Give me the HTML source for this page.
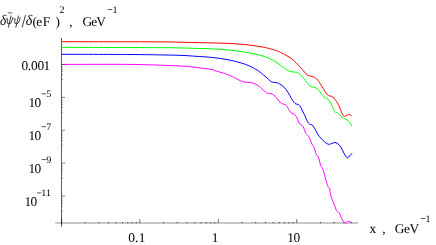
<!DOCTYPE html>
<html><head><meta charset="utf-8"><style>
html,body{margin:0;padding:0;background:#fff}
svg{display:block;will-change:transform}
text{font-family:"Liberation Serif",serif;fill:#000;text-rendering:geometricPrecision}
</style></head><body>
<svg width="436" height="245" viewBox="0 0 436 245">
<rect width="436" height="245" fill="#fff"/>
<rect x="55.3" y="222.15" width="302.5" height="1.7" fill="#bebebe"/>
<line x1="85.02" y1="223.2" x2="85.02" y2="222.0" stroke="#111" stroke-width="0.75"/><line x1="98.83" y1="223.2" x2="98.83" y2="222.0" stroke="#111" stroke-width="0.75"/><line x1="108.63" y1="223.2" x2="108.63" y2="222.0" stroke="#111" stroke-width="0.75"/><line x1="116.23" y1="223.2" x2="116.23" y2="222.0" stroke="#111" stroke-width="0.75"/><line x1="122.45" y1="223.2" x2="122.45" y2="222.0" stroke="#111" stroke-width="0.75"/><line x1="127.70" y1="223.2" x2="127.70" y2="222.0" stroke="#111" stroke-width="0.75"/><line x1="132.25" y1="223.2" x2="132.25" y2="222.0" stroke="#111" stroke-width="0.75"/><line x1="136.26" y1="223.2" x2="136.26" y2="222.0" stroke="#111" stroke-width="0.75"/><line x1="139.85" y1="223" x2="139.85" y2="219.1" stroke="#000" stroke-width="0.55"/><line x1="163.47" y1="223.2" x2="163.47" y2="222.0" stroke="#111" stroke-width="0.75"/><line x1="177.28" y1="223.2" x2="177.28" y2="222.0" stroke="#111" stroke-width="0.75"/><line x1="187.08" y1="223.2" x2="187.08" y2="222.0" stroke="#111" stroke-width="0.75"/><line x1="194.68" y1="223.2" x2="194.68" y2="222.0" stroke="#111" stroke-width="0.75"/><line x1="200.90" y1="223.2" x2="200.90" y2="222.0" stroke="#111" stroke-width="0.75"/><line x1="206.15" y1="223.2" x2="206.15" y2="222.0" stroke="#111" stroke-width="0.75"/><line x1="210.70" y1="223.2" x2="210.70" y2="222.0" stroke="#111" stroke-width="0.75"/><line x1="214.71" y1="223.2" x2="214.71" y2="222.0" stroke="#111" stroke-width="0.75"/><line x1="218.30" y1="223" x2="218.30" y2="219.1" stroke="#000" stroke-width="0.55"/><line x1="241.92" y1="223.2" x2="241.92" y2="222.0" stroke="#111" stroke-width="0.75"/><line x1="255.73" y1="223.2" x2="255.73" y2="222.0" stroke="#111" stroke-width="0.75"/><line x1="265.53" y1="223.2" x2="265.53" y2="222.0" stroke="#111" stroke-width="0.75"/><line x1="273.13" y1="223.2" x2="273.13" y2="222.0" stroke="#111" stroke-width="0.75"/><line x1="279.35" y1="223.2" x2="279.35" y2="222.0" stroke="#111" stroke-width="0.75"/><line x1="284.60" y1="223.2" x2="284.60" y2="222.0" stroke="#111" stroke-width="0.75"/><line x1="289.15" y1="223.2" x2="289.15" y2="222.0" stroke="#111" stroke-width="0.75"/><line x1="293.16" y1="223.2" x2="293.16" y2="222.0" stroke="#111" stroke-width="0.75"/><line x1="296.75" y1="223" x2="296.75" y2="219.1" stroke="#000" stroke-width="0.55"/><line x1="320.37" y1="223.2" x2="320.37" y2="222.0" stroke="#111" stroke-width="0.75"/><line x1="334.18" y1="223.2" x2="334.18" y2="222.0" stroke="#111" stroke-width="0.75"/><line x1="343.98" y1="223.2" x2="343.98" y2="222.0" stroke="#111" stroke-width="0.75"/><line x1="351.58" y1="223.2" x2="351.58" y2="222.0" stroke="#111" stroke-width="0.75"/>
<line x1="61.5" y1="38" x2="61.5" y2="226.8" stroke="#000" stroke-width="0.64"/>
<line x1="61.7" y1="218.9" x2="61.7" y2="224.1" stroke="#000" stroke-width="0.6"/>
<g fill="none" stroke-width="1.0" stroke-linejoin="round" stroke-linecap="butt">
<path d="M61.50,64.40 C72.92,64.40 112.58,64.23 130.00,64.40 C144.40,64.54 157.00,65.10 166.00,65.40 C173.20,65.64 179.00,65.87 184.00,66.20 C188.81,66.52 191.25,66.82 196.00,67.40 C200.75,67.98 209.17,69.10 212.50,69.70 C213.97,69.96 214.58,70.55 216.00,71.00 C217.96,71.62 221.50,72.45 224.25,73.40 C227.00,74.35 229.75,75.46 232.50,76.70 C235.25,77.94 238.68,79.93 240.75,80.85 C242.35,81.56 243.25,81.92 244.90,82.20 C246.55,82.48 248.87,82.17 250.65,82.50 C252.43,82.83 253.95,83.33 255.60,84.15 C257.25,84.98 259.48,86.65 260.55,87.45 C261.22,87.95 261.39,88.38 262.00,88.95 C262.78,89.67 264.27,91.06 265.25,91.80 C266.23,92.54 266.92,93.07 267.90,93.40 C268.88,93.73 270.13,93.52 271.10,93.80 C272.07,94.08 272.82,94.45 273.70,95.10 C274.57,95.75 275.48,96.72 276.35,97.70 C277.23,98.68 278.08,99.98 278.95,100.95 C279.82,101.92 280.57,102.96 281.55,103.55 C282.53,104.14 283.93,104.06 284.80,104.50 C285.68,104.94 286.14,105.38 286.80,106.20 C287.46,107.02 288.10,108.38 288.75,109.40 C289.40,110.42 289.95,111.54 290.70,112.30 C291.45,113.06 292.50,113.46 293.25,113.95 C294.00,114.44 294.59,114.54 295.20,115.25 C295.86,116.01 296.55,117.19 297.20,118.50 C297.85,119.81 298.45,122.07 299.10,123.10 C299.64,123.95 300.45,124.11 301.10,124.65 C301.75,125.19 302.46,125.49 303.00,126.35 C303.58,127.28 304.12,129.06 304.60,130.25 C305.08,131.44 305.40,132.68 305.90,133.50 C306.40,134.32 307.10,134.65 307.60,135.20 C308.10,135.75 308.50,136.08 308.90,136.80 C309.35,137.60 309.82,138.82 310.30,140.00 C310.78,141.18 311.18,142.82 311.75,143.90 C312.32,144.98 313.16,145.42 313.70,146.50 C314.24,147.58 314.57,149.09 315.00,150.40 C315.43,151.71 315.76,153.26 316.30,154.35 C316.84,155.44 317.71,155.86 318.25,156.95 C318.79,158.04 319.16,159.49 319.55,160.90 C319.94,162.31 320.12,164.22 320.60,165.40 C321.07,166.57 321.88,166.92 322.40,168.00 C322.92,169.08 323.31,170.38 323.75,171.90 C324.19,173.42 324.57,175.36 325.05,177.10 C325.53,178.84 326.12,180.82 326.60,182.35 C327.08,183.88 327.40,185.16 327.90,186.25 C328.40,187.34 329.21,187.81 329.60,188.90 C329.99,189.99 330.02,191.53 330.25,192.80 C330.48,194.07 330.62,195.23 331.00,196.50 C331.38,197.77 331.93,198.97 332.50,200.40 C333.07,201.83 333.75,203.44 334.40,205.10 C335.05,206.76 335.85,209.22 336.40,210.35 C336.75,211.08 337.20,211.47 337.70,211.90 C338.20,212.33 338.96,212.28 339.40,212.95 C339.94,213.78 340.37,215.59 340.95,216.90 C341.53,218.21 342.36,219.87 342.90,220.80 C343.33,221.54 343.77,222.18 344.20,222.50 C344.62,222.82 344.98,222.86 345.50,222.75 C346.05,222.63 346.85,222.03 347.50,221.80 C348.15,221.58 348.87,221.40 349.40,221.40 C349.93,221.40 350.32,221.58 350.70,221.80 C351.07,222.03 351.49,222.59 351.65,222.75" stroke="#ff00ff"/>
<path d="M61.50,54.30 C72.92,54.33 112.58,54.38 130.00,54.50 C144.40,54.60 157.00,54.83 166.00,55.00 C173.20,55.13 179.00,55.28 184.00,55.50 C188.81,55.71 191.25,55.97 196.00,56.30 C200.75,56.63 207.00,56.90 212.50,57.50 C218.00,58.10 223.50,58.75 229.00,59.90 C234.50,61.05 240.79,62.70 245.50,64.40 C250.21,66.10 253.92,68.05 257.25,70.10 C260.58,72.15 263.16,74.77 265.50,76.70 C267.84,78.63 269.93,80.77 271.30,81.70 C272.13,82.27 272.76,82.11 273.75,82.30 C274.85,82.52 276.92,82.72 277.90,83.00 C278.66,83.22 278.95,83.56 279.60,84.00 C280.65,84.72 282.78,85.88 284.20,87.30 C285.62,88.72 286.91,90.66 288.10,92.50 C289.29,94.34 290.38,96.72 291.35,98.35 C292.31,99.96 293.19,101.32 293.95,102.25 C294.60,103.05 295.22,103.61 295.90,103.95 C296.57,104.29 297.37,104.03 298.00,104.30 C298.63,104.57 299.17,104.92 299.70,105.60 C300.28,106.35 300.95,107.73 301.50,108.80 C302.05,109.87 302.42,110.82 303.00,112.00 C303.58,113.18 304.34,114.48 305.00,115.90 C305.66,117.32 306.37,119.30 306.95,120.50 C307.48,121.59 307.96,122.45 308.50,123.10 C309.04,123.75 309.59,124.08 310.20,124.40 C310.81,124.72 311.50,124.50 312.15,125.00 C312.80,125.50 313.44,126.42 314.10,127.40 C314.76,128.38 315.45,129.67 316.10,130.90 C316.75,132.13 317.24,133.60 318.00,134.80 C318.76,136.00 319.93,137.28 320.65,138.10 C321.26,138.79 321.64,139.08 322.30,139.70 C322.96,140.32 323.78,141.12 324.60,141.80 C325.42,142.48 326.43,143.38 327.20,143.80 C327.92,144.19 328.55,144.30 329.20,144.30 C329.85,144.30 330.45,144.03 331.10,143.80 C331.75,143.57 332.45,143.10 333.10,142.90 C333.75,142.70 334.35,142.57 335.00,142.60 C335.65,142.63 336.34,142.75 337.00,143.10 C337.66,143.45 338.30,144.00 338.95,144.70 C339.60,145.40 340.24,146.26 340.90,147.30 C341.56,148.34 342.25,149.68 342.90,150.95 C343.55,152.22 344.22,153.86 344.80,154.90 C345.35,155.88 345.92,156.73 346.40,157.20 C346.80,157.59 347.27,157.77 347.70,157.70 C348.13,157.63 348.55,157.23 349.00,156.80 C349.45,156.37 349.90,155.68 350.40,155.10 C350.90,154.52 351.73,153.60 352.00,153.30" stroke="#0000ff"/>
<path d="M61.50,47.30 C72.92,47.34 112.58,47.48 130.00,47.55 C144.40,47.61 157.00,47.62 166.00,47.70 C173.20,47.76 179.00,47.88 184.00,48.00 C188.80,48.11 191.25,48.25 196.00,48.40 C200.75,48.55 207.00,48.63 212.50,48.90 C218.00,49.17 223.50,49.45 229.00,50.00 C234.50,50.55 240.33,51.33 245.50,52.20 C250.67,53.07 256.92,54.50 260.00,55.20 C261.63,55.57 262.43,55.83 264.00,56.40 C265.75,57.03 268.33,57.95 270.50,59.00 C272.67,60.05 274.82,61.28 277.00,62.70 C279.18,64.12 281.75,66.17 283.60,67.50 C285.39,68.79 286.70,69.97 288.10,70.70 C289.50,71.43 290.58,71.63 292.00,71.90 C293.42,72.17 295.18,71.83 296.60,72.30 C298.02,72.77 299.17,73.44 300.50,74.70 C301.98,76.10 303.93,78.87 305.45,80.70 C306.97,82.53 308.50,84.65 309.60,85.70 C310.40,86.47 311.09,86.67 312.05,87.00 C313.01,87.33 314.25,87.13 315.35,87.65 C316.45,88.17 317.53,88.90 318.65,90.10 C319.89,91.42 321.70,94.28 322.80,95.60 C323.68,96.65 324.51,97.48 325.25,98.00 C325.95,98.48 326.59,98.27 327.25,98.70 C327.91,99.13 328.54,99.73 329.20,100.60 C329.86,101.47 330.55,102.60 331.20,103.90 C331.85,105.20 332.57,107.22 333.10,108.40 C333.58,109.46 333.97,110.34 334.40,111.00 C334.81,111.63 335.15,112.02 335.70,112.35 C336.25,112.68 337.04,112.61 337.70,113.00 C338.36,113.39 338.90,113.99 339.65,114.70 C340.41,115.42 341.38,116.60 342.25,117.30 C343.12,118.00 344.02,118.42 344.90,118.90 C345.77,119.38 346.75,119.67 347.50,120.20 C348.25,120.73 348.87,121.45 349.40,122.10 C349.93,122.75 350.32,123.38 350.70,124.10 C351.07,124.82 351.49,126.02 351.65,126.40" stroke="#00ff00"/>
<path d="M61.50,41.70 C72.92,41.72 112.58,41.77 130.00,41.80 C144.40,41.83 157.00,41.82 166.00,41.90 C173.20,41.97 179.00,42.18 184.00,42.30 C188.80,42.41 191.25,42.50 196.00,42.60 C200.75,42.70 207.00,42.77 212.50,42.90 C218.00,43.03 223.50,43.12 229.00,43.40 C234.50,43.68 240.33,44.07 245.50,44.60 C250.67,45.13 256.21,45.99 260.00,46.60 C263.32,47.13 265.50,47.57 268.25,48.25 C271.00,48.93 274.44,50.01 276.50,50.70 C278.18,51.27 279.23,51.77 280.60,52.40 C281.98,53.03 283.35,53.73 284.75,54.50 C286.15,55.27 287.62,56.12 289.00,57.00 C290.38,57.88 291.54,58.50 293.00,59.80 C294.77,61.37 297.68,64.33 299.60,66.40 C301.53,68.47 303.23,70.77 304.55,72.20 C305.65,73.40 306.52,74.33 307.50,75.00 C308.48,75.67 309.37,75.88 310.40,76.20 C311.43,76.52 312.51,76.26 313.70,76.90 C314.93,77.57 316.43,78.60 317.80,80.20 C319.18,81.80 320.57,84.35 321.95,86.50 C323.33,88.65 325.00,91.58 326.10,93.10 C326.92,94.23 327.59,95.05 328.55,95.60 C329.51,96.15 330.98,96.00 331.85,96.40 C332.73,96.80 333.11,97.26 333.80,98.00 C334.56,98.82 335.64,100.22 336.40,101.30 C337.16,102.38 337.70,103.20 338.35,104.50 C339.00,105.80 339.76,107.79 340.30,109.10 C340.84,110.39 341.17,111.37 341.60,112.35 C342.03,113.33 342.47,114.34 342.90,115.00 C343.30,115.61 343.77,116.13 344.20,116.30 C344.63,116.47 345.01,116.21 345.50,116.00 C346.00,115.78 346.65,115.23 347.20,115.00 C347.75,114.77 348.25,114.60 348.80,114.60 C349.35,114.60 350.00,114.77 350.50,115.00 C351.00,115.23 351.58,115.83 351.80,116.00" stroke="#ff0000"/>
</g>
<line x1="61.5" y1="64.5" x2="65" y2="64.5" stroke="#333" stroke-width="0.6"/><line x1="61.5" y1="67.0" x2="63.0" y2="67.0" stroke="#444" stroke-width="0.5"/><line x1="61.5" y1="69.3" x2="63.0" y2="69.3" stroke="#444" stroke-width="0.5"/><line x1="61.5" y1="71.5" x2="63.0" y2="71.5" stroke="#444" stroke-width="0.5"/><line x1="61.5" y1="74.5" x2="63.0" y2="74.5" stroke="#444" stroke-width="0.5"/><line x1="61.5" y1="79.5" x2="63.0" y2="79.5" stroke="#444" stroke-width="0.5"/><line x1="61.5" y1="97.4" x2="65" y2="97.4" stroke="#333" stroke-width="0.6"/><line x1="61.5" y1="99.9" x2="63.0" y2="99.9" stroke="#444" stroke-width="0.5"/><line x1="61.5" y1="102.2" x2="63.0" y2="102.2" stroke="#444" stroke-width="0.5"/><line x1="61.5" y1="104.4" x2="63.0" y2="104.4" stroke="#444" stroke-width="0.5"/><line x1="61.5" y1="107.4" x2="63.0" y2="107.4" stroke="#444" stroke-width="0.5"/><line x1="61.5" y1="112.4" x2="63.0" y2="112.4" stroke="#444" stroke-width="0.5"/><line x1="61.5" y1="130.3" x2="65" y2="130.3" stroke="#333" stroke-width="0.6"/><line x1="61.5" y1="132.8" x2="63.0" y2="132.8" stroke="#444" stroke-width="0.5"/><line x1="61.5" y1="135.10000000000002" x2="63.0" y2="135.10000000000002" stroke="#444" stroke-width="0.5"/><line x1="61.5" y1="137.3" x2="63.0" y2="137.3" stroke="#444" stroke-width="0.5"/><line x1="61.5" y1="140.3" x2="63.0" y2="140.3" stroke="#444" stroke-width="0.5"/><line x1="61.5" y1="145.3" x2="63.0" y2="145.3" stroke="#444" stroke-width="0.5"/><line x1="61.5" y1="163.2" x2="65" y2="163.2" stroke="#333" stroke-width="0.6"/><line x1="61.5" y1="165.7" x2="63.0" y2="165.7" stroke="#444" stroke-width="0.5"/><line x1="61.5" y1="168.0" x2="63.0" y2="168.0" stroke="#444" stroke-width="0.5"/><line x1="61.5" y1="170.2" x2="63.0" y2="170.2" stroke="#444" stroke-width="0.5"/><line x1="61.5" y1="173.2" x2="63.0" y2="173.2" stroke="#444" stroke-width="0.5"/><line x1="61.5" y1="178.2" x2="63.0" y2="178.2" stroke="#444" stroke-width="0.5"/><line x1="61.5" y1="196.1" x2="65" y2="196.1" stroke="#333" stroke-width="0.6"/><line x1="61.5" y1="198.6" x2="63.0" y2="198.6" stroke="#444" stroke-width="0.5"/><line x1="61.5" y1="200.9" x2="63.0" y2="200.9" stroke="#444" stroke-width="0.5"/><line x1="61.5" y1="203.1" x2="63.0" y2="203.1" stroke="#444" stroke-width="0.5"/><line x1="61.5" y1="206.1" x2="63.0" y2="206.1" stroke="#444" stroke-width="0.5"/><line x1="61.5" y1="211.1" x2="63.0" y2="211.1" stroke="#444" stroke-width="0.5"/>
<g font-size="13.4">
<text transform="translate(0.0,25.3) scale(1,1.1)" font-style="italic">δ</text>
<g fill="none" stroke="#000" stroke-width="0.75" stroke-linecap="round">
<path d="M11.0,16.0 L8.35,27.3 M6.4,18.7 Q7.7,17.5 7.6,19.3 L7.2,21.8 Q7.0,23.9 9.0,23.9 Q11.0,23.9 12.0,20.6 Q12.6,18.8 12.5,17.6"/>
<path transform="translate(7.5,0)" d="M11.0,16.0 L8.35,27.3 M6.4,18.7 Q7.7,17.5 7.6,19.3 L7.2,21.8 Q7.0,23.9 9.0,23.9 Q11.0,23.9 12.0,20.6 Q12.6,18.8 12.5,17.6"/>
</g>
<line x1="7.8" y1="12.9" x2="12.3" y2="12.9" stroke="#000" stroke-width="0.65"/>
<line x1="22.1" y1="27.4" x2="25.5" y2="15.0" stroke="#000" stroke-width="0.75"/>
<text transform="translate(25.8,25.3) scale(1.05,1.1)" font-style="italic">δ</text>
<text x="32.5" y="25.5">(</text>
<text x="36.3" y="25.5">e</text>
<text x="42.8" y="25.5">F</text>
<text x="55.5" y="25.5">)</text>
<text x="69.3" y="25.5">,</text>
<text x="82.5" y="25.5" textLength="23.5" lengthAdjust="spacing">GeV</text>
<text x="21.4 27.7 30.9 37.6 43.6" y="70">0.001</text>
<text x="28.6 34.5" y="107">10</text>
<text x="28.6 34.5" y="139.8">10</text>
<text x="28.6 34.5" y="172.7">10</text>
<text x="24.6 30.5" y="206.4">10</text>
<text x="128.2 134.9 138.7" y="241.6">0.1</text>
<text x="211.8" y="241.6">1</text>
<text x="287.2 293.5" y="241.6">10</text>
<text x="369.6" y="233.4">x</text>
<text x="382.2" y="233.4">,</text>
<text x="394.7" y="233.4" textLength="24.5" lengthAdjust="spacing">GeV</text>
</g>
<g font-size="10">
<text x="59.4" y="13.1">2</text>
<text x="112.6" y="12.5">1</text>
<text x="46.2" y="96.8">5</text>
<text x="46.2" y="129.7">7</text>
<text x="46.2" y="162.6">9</text>
<text x="41.3" y="195.9">11</text>
<text x="425.6" y="221.5">1</text>
</g>
<g stroke="#000" stroke-width="0.65">
<line x1="107.8" y1="9.5" x2="112.2" y2="9.5"/>
<line x1="41.6" y1="93.8" x2="46" y2="93.8"/>
<line x1="41.6" y1="126.7" x2="46" y2="126.7"/>
<line x1="41.6" y1="159.6" x2="46" y2="159.6"/>
<line x1="37" y1="192.9" x2="41.4" y2="192.9"/>
<line x1="420.9" y1="218.5" x2="425.3" y2="218.5"/>
</g>
</svg>
</body></html>
